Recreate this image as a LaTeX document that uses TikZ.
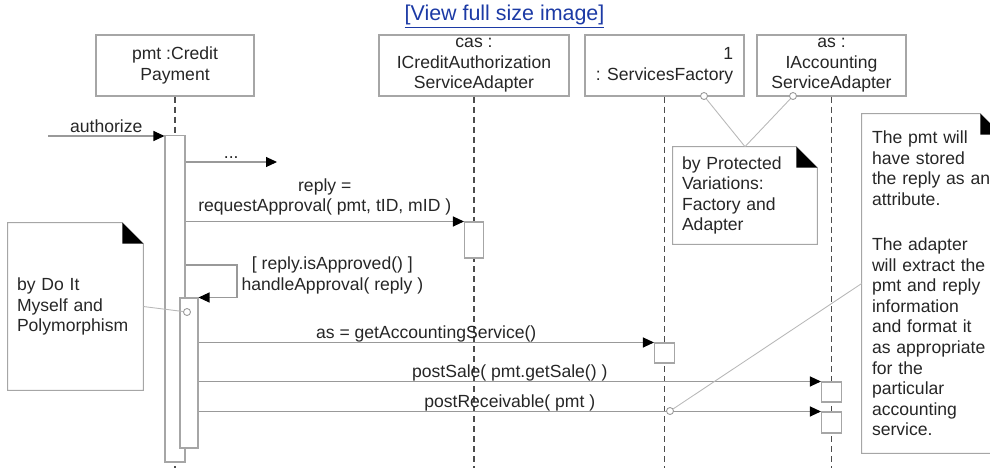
\documentclass[tikz,border=0pt]{standalone}
\usepackage{fontspec}
\setmainfont{Liberation Sans}
\usepackage{tikz}
\usetikzlibrary{positioning, arrows.meta, calc}
\definecolor{linkblue}{RGB}{28,58,165}

\begin{document}
\begin{tikzpicture}[
  x=0.02cm, y=-0.02cm,
  font=\fontsize{10}{11.7}\selectfont,
  text=black!85,
  head/.style={draw=black!35, line width=0.6pt, fill=white,
    minimum height=1.22cm, align=center, inner sep=0pt},
  life/.style={draw=black!70, line width=0.6pt, dash pattern=on 0.12cm off 0.08cm},
  actbar/.style={draw=black!35, line width=0.6pt, fill=white,
    minimum width=0.4cm, inner sep=0pt},
  msg/.style={draw=black!40, line width=0.6pt,
    -{Triangle[length=0.22cm, width=0.2cm, color=black]}},
  lbl/.style={midway, anchor=base, yshift=2.2pt, inner sep=0pt},
  note/.style={align=left, inner xsep=0.18cm, inner ysep=0pt},
  notebox/.style={draw=black!35, line width=0.6pt},
  tie/.style={draw=black!28, line width=0.5pt},
  pin/.style={circle, draw=black!40, line width=0.5pt, fill=white,
    minimum size=0.14cm, inner sep=0pt},
]
  \path[use as bounding box, clip] (0,0) rectangle (990,468);

  % Lifeline heads
  \node[head, minimum width=3.16cm] (pmt) at (175,65.5) {pmt :Credit\\Payment};
  \node[head, minimum width=3.8cm] (cas) at (474,65.5) {cas :\\ICreditAuthorization\\ServiceAdapter};
  \node[head, minimum width=3.18cm, align=right] (fact) at (664.5,65.5) {1\\: ServicesFactory};
  \node[head, minimum width=2.98cm] (as) at (831.5,65.5) {as :\\IAccounting\\ServiceAdapter};

  \coordinate (floor) at (0,468);
  \foreach \h in {pmt, cas, fact, as} {
    \draw[life] (\h.south) -- (\h.south |- floor);
  }

  % Activation bars
  \node[actbar, minimum height=6.54cm] (pmtA) at (175,298.5) {};
  \node[actbar, minimum width=0.36cm, minimum height=3.0cm] (pmtB) at (189,373) {};
  \node[actbar, minimum width=0.38cm, minimum height=0.72cm] (casA) at (474,240) {};
  \node[actbar, minimum height=0.4cm] (factA) at (664.5,353) {};
  \node[actbar, minimum height=0.4cm] (asA) at (831.5,392) {};
  \node[actbar, minimum height=0.42cm] (asB) at (831.5,422.5) {};

  % Messages
  \coordinate (caller) at (48,136);
  \draw[msg] (caller) -- (caller -| pmtA.west) node[lbl] {authorize};

  \coordinate (dotsEnd) at (277,162);
  \draw[msg] (pmtA.east |- dotsEnd) -- (dotsEnd) node[lbl] {...};

  \draw[msg] (pmtA.east |- casA.north) -- (casA.north west)
    node[midway, above=3.2pt, inner sep=0pt, align=center]
    {reply =\\requestApproval( pmt, tID, mID )};

  \coordinate (loop) at (237,265);
  \draw[msg] (pmtA.east |- loop) -- (loop) |- (pmtB.north east)
    node[pos=0.25, anchor=west, xshift=0.08cm, yshift=3.4pt, align=center, inner sep=0pt]
    {[ reply.isApproved() ]\\handleApproval( reply )};

  \draw[msg] (pmtB.east |- factA.north) -- (factA.north west)
    node[lbl] {as = getAccountingService()};
  \draw[msg] (pmtB.east |- asA.north) -- (asA.north west)
    node[lbl] {postSale( pmt.getSale() )};
  \draw[msg] (pmtB.east |- asB.north) -- (asB.north west)
    node[lbl] {postReceivable( pmt )};

  % Notes
  \node[note, text width=2.34cm, minimum height=3.34cm] (nDo) at (75.5,306.5)
    {by Do It\\Myself and\\Polymorphism};
  \node[note, text width=2.52cm, minimum height=1.94cm] (nPV) at (745,195.5)
    {by Protected\\Variations:\\Factory and\\Adapter};
  \node[note, text width=2.38cm, inner xsep=0.2cm, minimum height=6.78cm] (nPmt) at (931.5,283.5)
    {The pmt will\\have stored\\the reply as an\\attribute.\\[14pt]
     The adapter\\will extract the\\pmt and reply\\information\\and format it\\as appropriate\\for the\\particular\\accounting\\service.};

  \foreach \n in {nDo, nPV, nPmt} {
    \draw[notebox] (\n.north west) -- ([xshift=-0.42cm]\n.north east)
      -- ([yshift=-0.42cm]\n.north east) -- (\n.south east) -- (\n.south west) -- cycle;
    \fill ([xshift=-0.42cm]\n.north east) -- ([xshift=-0.42cm, yshift=-0.42cm]\n.north east)
      -- ([yshift=-0.42cm]\n.north east) -- cycle;
  }

  % Note anchors
  \node[pin] (pFact) at (704,96) {};
  \node[pin] (pAs) at (793,96) {};
  \node[pin] (pDo) at (187,312) {};
  \node[pin] (pRec) at (670,411) {};
  \draw[tie] (nPV.north) -- (pFact);
  \draw[tie] (nPV.north) -- (pAs);
  \draw[tie] (nDo.east) -- (pDo);
  \draw[tie] (nPmt.west) -- (pRec);

  \node[font=\fontsize{12.2}{14}\selectfont, text=linkblue] (link) at (504.5,17)
    {\underline{[View full size image]}};
\end{tikzpicture}
\end{document}
